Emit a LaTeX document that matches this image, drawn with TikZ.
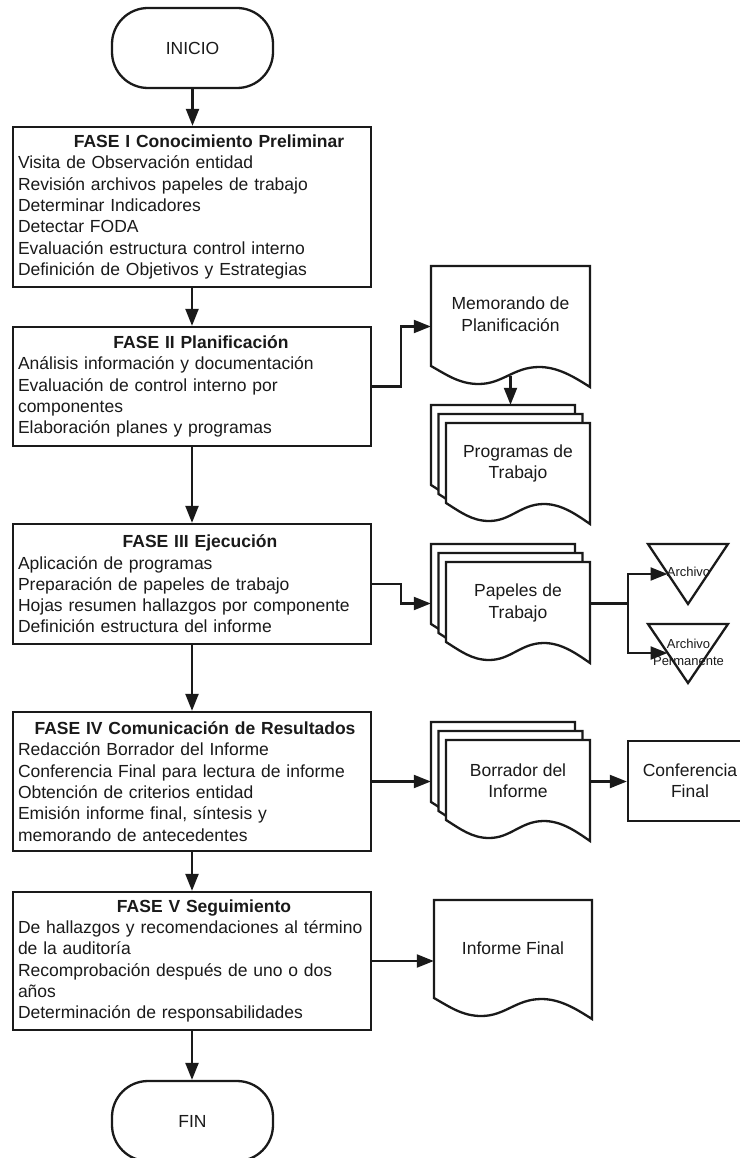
\documentclass[tikz,border=0pt]{standalone}
\usepackage{fontspec}
\setmainfont{Liberation Sans}
\usetikzlibrary{arrows.meta,calc}

\definecolor{ink}{HTML}{1A1A1A}

% centred bold heading inside a phase box, nudged right by #1/2 pt
\newcommand\ttl[2]{\makebox[\linewidth][c]{\hspace*{#1pt}\textbf{#2}}}

% document symbol: left x, top y, right x, bottom-right y
\newcommand\docoutline[5][]{%
  \draw[outl,#1] ({#2},{(#5)-21}) -- ({#2},{#3}) -- ({#4},{#3}) -- ({#4},{#5})
    .. controls ({(#2)+0.90*((#4)-(#2))},{(#5)-10}) and ({(#2)+0.80*((#4)-(#2))},{(#5)-20}) .. ({(#2)+0.68*((#4)-(#2))},{(#5)-20})
    .. controls ({(#2)+0.52*((#4)-(#2))},{(#5)-20}) and ({(#2)+0.45*((#4)-(#2))},{(#5)-3}) .. ({(#2)+0.30*((#4)-(#2))},{(#5)-3})
    .. controls ({(#2)+0.18*((#4)-(#2))},{(#5)-3}) and ({(#2)+0.10*((#4)-(#2))},{(#5)-12}) .. ({#2},{(#5)-21}) -- cycle;%
}
% three stacked document symbols: left x and top y of the rear sheet
\newcommand\docstack[2]{%
  \docoutline[fill=white]{#1}{#2}{(#1)+144}{(#2)+101}%
  \docoutline[fill=white]{(#1)+7.5}{(#2)+9}{(#1)+151.5}{(#2)+110}%
  \docoutline[fill=white]{(#1)+15}{(#2)+18}{(#1)+159}{(#2)+119}%
}

\begin{document}
\begin{tikzpicture}[x=1pt,y=-1pt,
  outl/.style={draw=ink, line width=2.3pt},
  terminal/.style={outl, rounded corners=36pt, minimum width=161pt, minimum height=80pt,
    text=ink, font=\fontsize{17.5}{21}\selectfont},
  phase/.style={outl, minimum width=358pt, text width=348pt, inner xsep=5pt, align=left,
    text=ink, font=\fontsize{17.5}{21.3}\selectfont},
  region/.style={inner sep=0pt},
  doctext/.style={inner sep=0pt, align=center, text=ink, font=\fontsize{17.5}{21.5}\selectfont},
  tritext/.style={inner sep=0pt, align=center, text=ink, font=\fontsize{13}{16.5}\selectfont},
  plain/.style={draw=ink, line width=2.2pt},
  conn/.style={plain, -{Triangle[length=17pt,width=13pt]}}
]
\useasboundingbox (0,0) rectangle (739,1158);
\fill[white] (0,0) rectangle (739,1158);

% ---- main column ----
\node[terminal] (inicio) at (192.5,48) {INICIO};

\node[phase, minimum height=160pt] (f1) at (192,207) {%
  \ttl{34}{FASE I Conocimiento Preliminar}\\
  Visita de Observación entidad\\
  Revisión archivos papeles de trabajo\\
  Determinar Indicadores\\
  Detectar FODA\\
  Evaluación estructura control interno\\
  Definición de Objetivos y Estrategias};

\node[phase, minimum height=119pt] (f2) at (192,386.5) {%
  \ttl{18}{FASE II Planificación}\\
  Análisis información y documentación\\
  Evaluación de control interno por\\
  componentes\\
  Elaboración planes y programas};

\node[phase, minimum height=120pt] (f3) at (192,584) {%
  \ttl{16}{FASE III Ejecución}\\
  Aplicación de programas\\
  Preparación de papeles de trabajo\\
  Hojas resumen hallazgos por componente\\
  Definición estructura del informe};

\node[phase, minimum height=139pt] (f4) at (192,781.5) {%
  \ttl{6}{FASE IV Comunicación de Resultados}\\
  Redacción Borrador del Informe\\
  Conferencia Final para lectura de informe\\
  Obtención de criterios entidad\\
  Emisión informe final, síntesis y\\
  memorando de antecedentes};

\node[phase, minimum height=138pt] (f5) at (192,961) {%
  \ttl{24}{FASE V Seguimiento}\\
  De hallazgos y recomendaciones al término\\
  de la auditoría\\
  Recomprobación después de uno o dos\\
  años\\
  Determinación de responsabilidades};

\node[terminal] (fin) at (192.5,1121) {FIN};

% ---- documents ----
\node[region, minimum width=159pt, minimum height=121pt] (memo) at (510.5,326.5) {};
\docoutline{431}{266}{590}{387}
\node[doctext] (memo-t) at (510.5,314) {Memorando de\\Planificación};
\coordinate (memo-out) at (510.5,375.5);

\node[region, minimum width=159pt, minimum height=119pt] (prog) at (510.5,464.5) {};
\docstack{431}{405}
\node[doctext] (prog-t) at (518,463.5) {Programas de\\Trabajo};

\node[region, minimum width=159pt, minimum height=119pt] (pap) at (510.5,603.5) {};
\docstack{431}{544}
\node[doctext] (pap-t) at (518,603) {Papeles de\\Trabajo};

\node[region, minimum width=159pt, minimum height=119pt] (borr) at (510.5,781.5) {};
\docstack{431}{722}
\node[doctext] (borr-t) at (518,780.5) {Borrador del\\Informe};

\node[region, minimum width=158pt, minimum height=119pt] (inf) at (513,959.5) {};
\docoutline{434}{900}{592}{1019}
\node[doctext] (inf-t) at (513,948) {Informe Final};

% ---- archive triangles ----
\draw[outl] (648,544) -- (728,544) -- (688,604) -- cycle;
\node[tritext] (arch1) at (688.5,572) {Archivo};
\coordinate (arch1-in) at (667.5,574);

\draw[outl] (648,624) -- (728,624) -- (688,683) -- cycle;
\node[tritext] (arch2) at (688.5,652.5) {Archivo\\Permanente};
\coordinate (arch2-in) at (667.5,653);

% ---- final conference box ----
\node[outl, minimum width=124pt, minimum height=80pt, align=center, text=ink,
      font=\fontsize{17.5}{21}\selectfont] (conf) at (690,781) {Conferencia\\Final};

% ---- connectors ----
\draw[conn] (inicio.south) -- (inicio.south |- f1.north);
\draw[conn] (f1.south) -- (f2.north);
\draw[conn] (f2.south) -- (f3.north);
\draw[conn] (f3.south) -- (f4.north);
\draw[conn] (f4.south) -- (f5.north);
\draw[conn] (f5.south) -- (f5.south |- fin.north);

\draw[conn] (f2.east) -- ++(29,0) |- (memo.west);
\draw[conn] (memo-out) -- (prog.north);
\draw[conn] (f3.east) -- ++(29,0) |- (pap.west);
\draw[plain] (pap.east) -- ++(38,0) coordinate (split);
\draw[conn] (split) |- (arch1-in);
\draw[conn] (split) |- (arch2-in);
\draw[conn] (f4.east) -- (f4.east -| borr.west);
\draw[conn] (borr.east) -- (borr.east -| conf.west);
\draw[conn] (f5.east) -- (f5.east -| inf.west);
\end{tikzpicture}
\end{document}
